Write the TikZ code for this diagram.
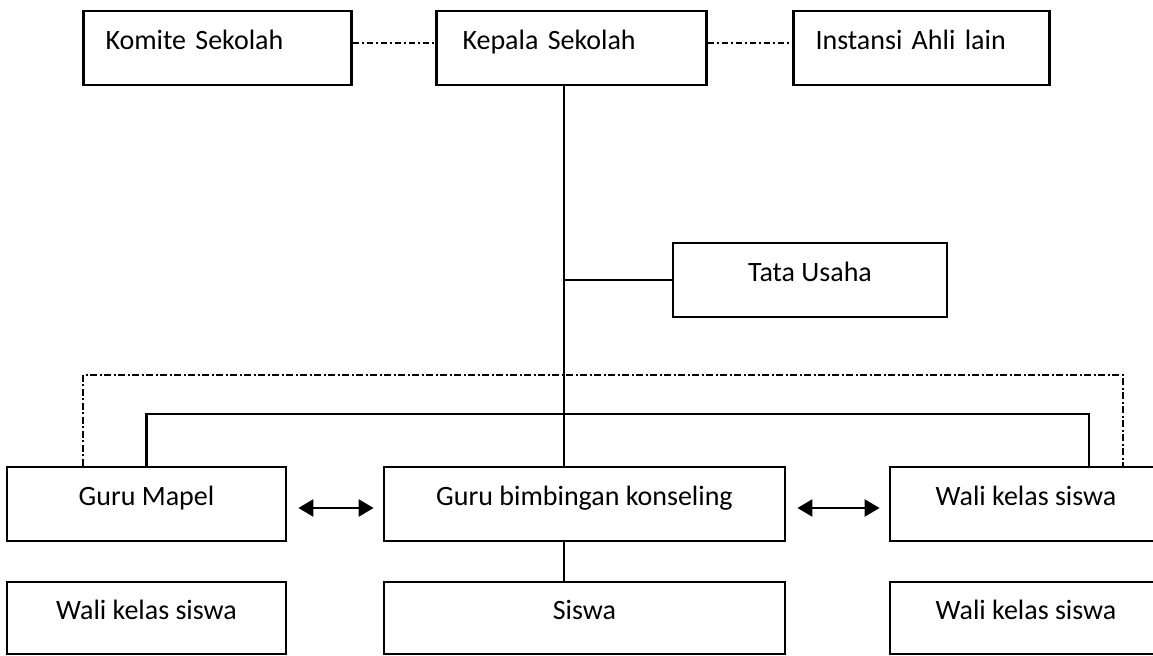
\documentclass[tikz,border=0pt]{standalone}
\usepackage{fontspec}
\setmainfont{Carlito}
\usetikzlibrary{arrows.meta}
\usetikzlibrary{positioning}

\begin{document}
\begin{tikzpicture}[x=0.5pt, y=-0.5pt, auto]

\tikzstyle{box} = [draw, line width=1.4pt, minimum height=37pt, inner sep=0pt, font=\fontsize{14}{16}\selectfont, text height=10pt, text depth=8pt]
\tikzstyle{topbox} = [box, align=left, text width=112pt, inner xsep=11pt]
\tikzstyle{link} = [line width=1.2pt]
\tikzstyle{dashdot} = [line width=1.2pt, dash pattern=on 3.2pt off 1.4pt on 1pt off 1.4pt]
\tikzstyle{both} = [link, {Triangle[length=7.5pt,width=8.5pt]}-{Triangle[length=7.5pt,width=8.5pt]}, shorten >=4.5pt, shorten <=5.5pt]

\useasboundingbox (0,0) rectangle (1153,656);

\node[topbox] (1) at (217.5,48) {\mbox{Komite Sekolah}};
\node[topbox] (2) [right of=1, node distance=177pt, inner xsep=13pt, text width=109pt] {\mbox{Kepala Sekolah}};
\node[topbox] (3) [right of=2, node distance=175pt, text width=106pt] {\mbox{Instansi Ahli lain}};

\node[box, minimum width=137pt] (4) at (810,280) {Tata Usaha};

\node[box, minimum width=200.5pt] (6) at (584.5,504) {Guru bimbingan konseling};
\node[box, minimum width=139.5pt] (5) [left of=6, node distance=219pt] {Guru Mapel};
\node[box, minimum width=136pt] (7) [right of=6, node distance=220.75pt] {Wali kelas siswa};

\node[box, minimum width=139.5pt, minimum height=36pt] (8) [below of=5, node distance=57pt] {Wali kelas siswa};
\node[box, minimum width=200.5pt, minimum height=36pt] (9) [below of=6, node distance=57pt] {Siswa};
\node[box, minimum width=136pt, minimum height=36pt] (10) [below of=7, node distance=57pt] {Wali kelas siswa};

\coordinate (a) at (564,0);
\coordinate (b) at (1089,414);
\coordinate (c) at (83,375);
\coordinate (d) at (1123,375);

\path[dashdot]
  ([yshift=2.5pt]1.east) edge ([yshift=2.5pt]2.west)
  ([yshift=2.5pt]2.east) edge ([yshift=2.5pt]3.west);

\path[link]
  (2.south -| a) edge (6.north -| a)
  (4.west -| a) edge (4.west)
  (6.south -| a) edge (9.north -| a);

\draw[link] (5.north) |- (b) -- (b |- 7.north);
\draw[dashdot] (c |- 5.north) -- (c) -- (d) -- (d |- 7.north);

\draw[both] ([yshift=-2pt]5.east) -- ([yshift=-2pt]6.west);
\draw[both] ([yshift=-2pt]6.east) -- ([yshift=-2pt]7.west);
\end{tikzpicture}
\end{document}
